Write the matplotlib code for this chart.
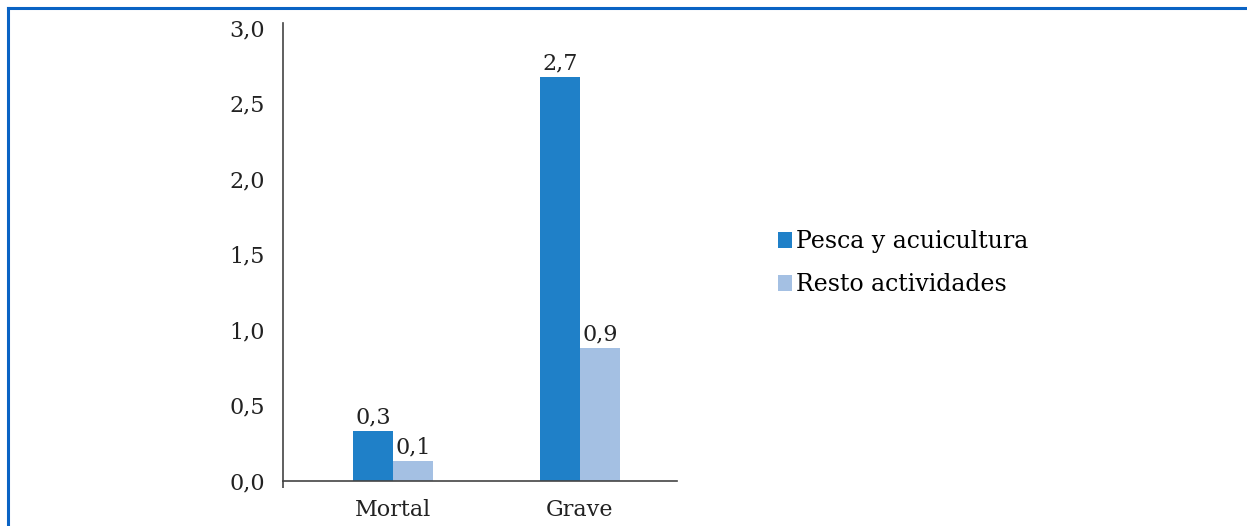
import matplotlib.pyplot as plt
from matplotlib.lines import Line2D
import numpy as np

categories = ["Mortal", "Grave"]
pesca = [0.33, 2.67]
resto = [0.13, 0.88]
pesca_labels = ["0,3", "2,7"]
resto_labels = ["0,1", "0,9"]
series_names = ["Pesca y acuicultura", "Resto actividades"]
yticks = [0.0, 0.5, 1.0, 1.5, 2.0, 2.5, 3.0]

plt.rcParams['font.family'] = ['DejaVu Serif']

fig = plt.figure(figsize=(12.47, 5.26), dpi=100)
ax = fig.add_axes([0.227, 0.0856, 0.316, 0.8705])

x = np.arange(len(categories))
w = 0.214
b1 = ax.bar(x - w / 2, pesca, w, color="#1f80c8", label=series_names[0])
b2 = ax.bar(x + w / 2, resto, w, color="#a4c0e3", label=series_names[1])

for bars, labels in [(b1, pesca_labels), (b2, resto_labels)]:
    for bar, lab in zip(bars, labels):
        ax.annotate(lab, (bar.get_x() + bar.get_width() / 2, bar.get_height()),
                    xytext=(0, 2), textcoords="offset points",
                    ha="center", va="bottom", fontsize=16, color="#222222")

ax.set_xlim(-0.588, 1.52)
ax.set_ylim(0, 3.03)
ax.set_yticks(yticks)
ax.set_yticklabels([f"{v:.1f}".replace(".", ",") for v in yticks])
ax.set_xticks(x)
ax.set_xticklabels(categories)
ax.tick_params(axis="both", length=0, labelsize=16, colors="#222222")
ax.tick_params(axis="y", pad=13)
ax.tick_params(axis="x", pad=13)
# small extensions at the origin
ax.set_yticks([0.0], minor=True)
ax.set_xticks([-0.588], minor=True)
ax.tick_params(axis="y", which="minor", length=10, width=1.2, color="#444444")
ax.tick_params(axis="x", which="minor", length=5, width=1.2, color="#444444")

for s in ["top", "right"]:
    ax.spines[s].set_visible(False)
for s in ["left", "bottom"]:
    ax.spines[s].set_color("#444444")
    ax.spines[s].set_linewidth(1.2)

fig.legend(handles=[b1, b2], loc="upper left", bbox_to_anchor=(0.607, 0.603),
           frameon=False, fontsize=17, handlelength=0.6, handleheight=0.7,
           handletextpad=0.15, labelspacing=0.85)

# page frame
fig.add_artist(Line2D([0.0065, 1.0], [0.985, 0.985], color="#0a63c4", lw=2.2))
fig.add_artist(Line2D([0.0065, 0.0065], [0.0, 0.985], color="#0a63c4", lw=2.2))

fig.savefig("out.png", dpi=100)
